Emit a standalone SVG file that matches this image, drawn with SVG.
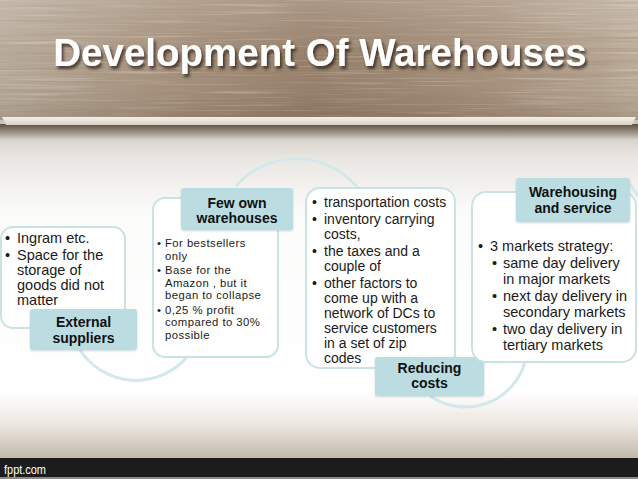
<svg xmlns="http://www.w3.org/2000/svg" width="638" height="479" viewBox="0 0 638 479">
<defs>
  <linearGradient id="wood" x1="0" y1="0" x2="1" y2="0">
    <stop offset="0" stop-color="#b7aa9a"/>
    <stop offset="0.25" stop-color="#a5907b"/>
    <stop offset="0.5" stop-color="#947d67"/>
    <stop offset="0.75" stop-color="#a38d78"/>
    <stop offset="1" stop-color="#bbab98"/>
  </linearGradient>
  <linearGradient id="woodV" x1="0" y1="0" x2="0" y2="1">
    <stop offset="0" stop-color="#ffffff" stop-opacity="0.2"/>
    <stop offset="0.5" stop-color="#ffffff" stop-opacity="0"/>
    <stop offset="1" stop-color="#3a2a1c" stop-opacity="0.15"/>
  </linearGradient>
  <filter id="grain" x="0" y="0" width="100%" height="100%">
    <feTurbulence type="fractalNoise" baseFrequency="0.006 0.35" numOctaves="3" seed="7"/>
    <feColorMatrix type="matrix" values="0 0 0 0 0.30  0 0 0 0 0.22  0 0 0 0 0.15  1.6 0 0 0 -0.75"/>
  </filter>
  <filter id="grain2" x="0" y="0" width="100%" height="100%">
    <feTurbulence type="fractalNoise" baseFrequency="0.01 0.5" numOctaves="2" seed="21"/>
    <feColorMatrix type="matrix" values="0 0 0 0 1  0 0 0 0 0.97  0 0 0 0 0.93  1.8 0 0 0 -0.95"/>
  </filter>
  <linearGradient id="body" x1="0" y1="124" x2="0" y2="458" gradientUnits="userSpaceOnUse">
    <stop offset="0" stop-color="#cbc3b9"/>
    <stop offset="0.1" stop-color="#e9e6e2"/>
    <stop offset="0.26" stop-color="#fbfbfa"/>
    <stop offset="0.8" stop-color="#ffffff"/>
    <stop offset="0.9" stop-color="#ece7e1"/>
    <stop offset="1" stop-color="#c2b8ab"/>
  </linearGradient>
  <linearGradient id="shadow" x1="0" y1="0" x2="0" y2="1">
    <stop offset="0" stop-color="#4a3d30" stop-opacity="0.85"/>
    <stop offset="1" stop-color="#4a3d30" stop-opacity="0"/>
  </linearGradient>
  <linearGradient id="strip" x1="0" y1="0" x2="0" y2="1">
    <stop offset="0" stop-color="#f4f0ea"/>
    <stop offset="1" stop-color="#d8d0c4"/>
  </linearGradient>
  <filter id="tshadow" x="-10%" y="-30%" width="120%" height="160%">
    <feDropShadow dx="2" dy="3" stdDeviation="1.5" flood-color="#2a1f15" flood-opacity="0.75"/>
  </filter>
  <filter id="lshadow" x="-10%" y="-10%" width="120%" height="130%">
    <feDropShadow dx="0" dy="1" stdDeviation="1" flood-color="#7a9ea2" flood-opacity="0.4"/>
  </filter>
  <style>
    .box { fill: #ffffff; stroke: #c9e2e4; stroke-width: 2; }
    .lbl { fill: #bbdde1; }
    .lt { font-family: "Liberation Sans", Arial, sans-serif; font-weight: bold; font-size: 14px; fill: #111111; text-anchor: middle; }
    .t { font-family: "Liberation Sans", Arial, sans-serif; fill: #1a1a1a; }
    .arc { fill: none; stroke: #d2e8ea; stroke-width: 3; }
  </style>
</defs>

<!-- background -->
<rect x="0" y="120" width="638" height="340" fill="url(#body)"/>
<rect x="0" y="0" width="638" height="120" fill="url(#wood)"/>
<rect x="0" y="0" width="638" height="120" filter="url(#grain)" opacity="0.55"/>
<rect x="0" y="0" width="638" height="120" filter="url(#grain2)" opacity="0.4"/>
<rect x="0" y="0" width="638" height="120" fill="url(#woodV)"/>
<rect x="0" y="124" width="638" height="16" fill="url(#shadow)"/>
<path d="M2 117 L636 117 L632 125 L6 125 Z" fill="url(#strip)"/>

<text x="320" y="66" font-family="Liberation Sans, Arial, sans-serif" font-weight="bold" font-size="38.5" fill="#ffffff" text-anchor="middle" filter="url(#tshadow)">Development Of Warehouses</text>

<!-- connectors -->
<g id="connectors">
  <path class="arc" d="M236 186 A80 80 0 0 1 358 188"/>
  <path class="arc" d="M80 350 A67 67 0 0 0 187 357"/>
  <path class="arc" d="M430 396 A62 62 0 0 0 525 362"/>
  <path class="arc" d="M624 178 A80 80 0 0 1 638 196"/>
</g>

<!-- node 1 -->
<g id="node-external-suppliers">
  <rect class="box" x="1" y="227" width="124" height="101" rx="12"/>
  <text class="t" font-size="14.5"><tspan x="5" y="243">•</tspan><tspan x="17" y="243">Ingram etc.</tspan><tspan x="5" y="260">•</tspan><tspan x="17" y="260">Space for the</tspan><tspan x="17" y="275">storage of</tspan><tspan x="17" y="290">goods did not</tspan><tspan x="17" y="305">matter</tspan></text>
  <rect class="lbl" x="30" y="309" width="107" height="41" rx="3" filter="url(#lshadow)"/>
  <text class="lt" x="83.5" y="327">External</text>
  <text class="lt" x="83.5" y="343">suppliers</text>
</g>

<!-- node 2 -->
<g id="node-few-own-warehouses">
  <rect class="box" x="153" y="198" width="125" height="159" rx="12"/>
  <text class="t" font-size="11.3" letter-spacing="0.45"><tspan x="157" y="247">•</tspan><tspan x="165" y="247">For bestsellers</tspan><tspan x="165" y="259.5">only</tspan><tspan x="157" y="274">•</tspan><tspan x="165" y="274">Base for the</tspan><tspan x="165" y="286.5">Amazon , but it</tspan><tspan x="165" y="299">began to collapse</tspan><tspan x="157" y="313.5">•</tspan><tspan x="165" y="313.5">0,25 % profit</tspan><tspan x="165" y="326">compared to 30%</tspan><tspan x="165" y="338.5">possible</tspan></text>
  <rect class="lbl" x="181" y="188" width="112" height="42" rx="3" filter="url(#lshadow)"/>
  <text class="lt" x="237" y="208">Few own</text>
  <text class="lt" x="237" y="223">warehouses</text>
</g>

<!-- node 3 -->
<g id="node-reducing-costs">
  <rect class="box" x="306" y="188" width="149" height="180" rx="14"/>
  <text class="t" font-size="14"><tspan x="312" y="207">•</tspan><tspan x="324" y="207">transportation costs</tspan><tspan x="312" y="224">•</tspan><tspan x="324" y="224">inventory carrying</tspan><tspan x="324" y="239">costs,</tspan><tspan x="312" y="256">•</tspan><tspan x="324" y="256">the taxes and a</tspan><tspan x="324" y="271">couple of</tspan><tspan x="312" y="288">•</tspan><tspan x="324" y="288">other factors to</tspan><tspan x="324" y="303">come up with a</tspan><tspan x="324" y="318">network of DCs to</tspan><tspan x="324" y="333">service customers</tspan><tspan x="324" y="348">in a set of zip</tspan><tspan x="324" y="363">codes</tspan></text>
  <rect class="lbl" x="375" y="357" width="109" height="39" rx="3" filter="url(#lshadow)"/>
  <text class="lt" x="429.5" y="373">Reducing</text>
  <text class="lt" x="429.5" y="388">costs</text>
</g>

<!-- node 4 -->
<g id="node-warehousing-service">
  <rect class="box" x="472" y="192" width="164" height="170" rx="14"/>
  <text class="t" font-size="14.5"><tspan x="478" y="251">•</tspan><tspan x="490" y="251">3 markets strategy:</tspan><tspan x="492" y="268">•</tspan><tspan x="503" y="268">same day delivery</tspan><tspan x="503" y="284">in major markets</tspan><tspan x="492" y="301">•</tspan><tspan x="503" y="301">next day delivery in</tspan><tspan x="503" y="317">secondary markets</tspan><tspan x="492" y="334">•</tspan><tspan x="503" y="334">two day delivery in</tspan><tspan x="503" y="350">tertiary markets</tspan></text>
  <rect class="lbl" x="516" y="178" width="114" height="44" rx="3" filter="url(#lshadow)"/>
  <text class="lt" x="573" y="197">Warehousing</text>
  <text class="lt" x="573" y="213">and service</text>
</g>

<!-- footer -->
<rect x="0" y="458" width="638" height="19" fill="#1c1c1c"/>
<rect x="0" y="477" width="638" height="2" fill="#8f8a84"/>
<text x="4" y="474" font-family="Liberation Sans, Arial, sans-serif" font-size="13" fill="#ffffff" textLength="42" lengthAdjust="spacingAndGlyphs">fppt.com</text>
</svg>
